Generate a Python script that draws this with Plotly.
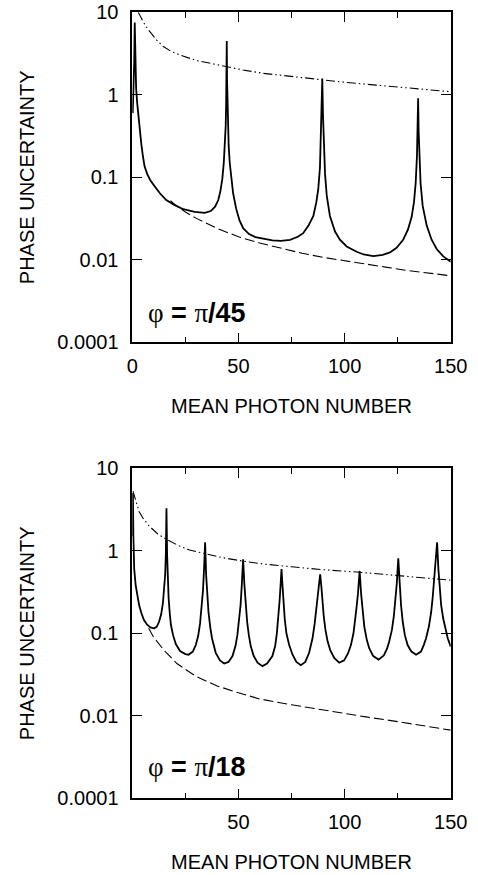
import plotly.graph_objects as go

# ---------------- Panel A : phi = pi/45 ----------------
a_solid_n = [0.2, 0.6, 0.9, 1.15, 1.4, 1.8, 2.3, 2.7, 3.4, 4.2, 5.0, 5.8, 7.0, 8.5, 10.5, 13, 16, 20, 24,
             29.4, 34.1, 37, 39, 40.5, 41.5, 42.4, 43.1, 43.6, 44.0, 44.2, 44.35, 44.5, 44.65, 44.8, 45.0,
             45.4, 45.9, 46.6, 47.5, 48.9, 50.5, 52.3, 55, 58, 62, 66, 70, 74.3, 78, 80.5, 83, 85.3, 86.7,
             87.6, 88.4, 88.8, 89.15, 89.5, 89.85, 90.2, 90.8, 91.6, 93.1, 95.5, 97.8, 101, 105.7, 109,
             113.5, 118, 121.4, 124.5, 127.6, 129.8, 131.6, 132.7, 133.5, 134.1, 134.4, 134.65, 134.9,
             135.3, 135.8, 136.8, 138.7, 141, 143.4, 146.5, 150]
a_solid_y = [0.6, 1.2, 2.5, 7.5, 2.5, 1.2, 0.8, 0.62, 0.4, 0.26, 0.18, 0.135, 0.11, 0.092, 0.078, 0.064,
             0.053, 0.046, 0.041, 0.038, 0.037, 0.039, 0.044, 0.053, 0.068, 0.095, 0.15, 0.24, 0.42, 0.75,
             1.5, 4.5, 1.5, 0.75, 0.42, 0.24, 0.15, 0.095, 0.064, 0.042, 0.030, 0.024, 0.0205, 0.0188,
             0.0178, 0.0172, 0.0170, 0.0174, 0.019, 0.021, 0.026, 0.034, 0.05, 0.072, 0.13, 0.26, 0.55,
             1.58, 0.55, 0.26, 0.11, 0.06, 0.034, 0.022, 0.0175, 0.0145, 0.0125, 0.0116, 0.0111, 0.0115,
             0.0123, 0.014, 0.0175, 0.023, 0.033, 0.05, 0.085, 0.18, 0.36, 0.91, 0.36, 0.16, 0.085, 0.045,
             0.026, 0.0175, 0.0135, 0.011, 0.0095]

a_dashdot_n = [2.8, 4, 5.5, 7, 9, 11.5, 14.6, 18.4, 23, 30.3, 38.8, 44.5, 52, 61.7, 75, 89.5, 100, 113.5,
               125, 134.7, 150]
a_dashdot_y = [10, 8.6, 7.4, 6.4, 5.5, 4.6, 3.85, 3.35, 3.0, 2.6, 2.35, 2.19, 2.0, 1.82, 1.67, 1.51, 1.42,
               1.32, 1.24, 1.17, 1.09]

a_dashed_n = [18, 20, 25, 30, 40, 50, 60, 70, 80, 90, 100, 110, 120, 130, 140, 150]
a_dashed_y = [0.052, 0.047, 0.038, 0.032, 0.024, 0.019, 0.016, 0.0138, 0.012, 0.0107, 0.0097, 0.0088,
              0.0081, 0.0074, 0.0069, 0.0064]

# ---------------- Panel B : phi = pi/18 ----------------
b_solid_n = [0.1, 0.3, 0.5, 0.9, 1.6, 2.4, 3.2, 4.3, 5.5, 7.0, 8.5, 10.3, 11.5, 12.6, 13.6, 14.4, 15.0,
             15.5, 15.8, 16.1, 16.4, 16.7, 17.1, 17.6, 18.2, 19.2, 20.5, 22.5, 25, 26.5, 28.5, 29.9, 31,
             31.9, 32.7, 33.3, 33.8, 34.3, 34.8, 35.3, 35.9, 36.8, 37.6, 39.3, 41.3, 43.3, 45.3, 47.2,
             48.6, 49.5, 50.3, 51.0, 51.6, 52.2, 52.8, 53.4, 54.1, 54.9, 55.8, 57.2, 59, 61.3, 63.5, 66.0,
             67.3, 68.1, 68.8, 69.4, 69.9, 70.3, 70.7, 71.2, 71.8, 72.6, 73.9, 75.5, 77.3, 79.4, 81.5,
             83.3, 84.9, 85.9, 86.7, 87.3, 87.9, 88.5, 89.1, 89.6, 90.2, 91.0, 92.0, 93.3, 95.2, 97.5,
             99.8, 101.6, 103, 104.2, 105.0, 105.6, 106.3, 107.1, 107.8, 108.5, 109.3, 110.4, 111.6, 113.5,
             116, 118.5, 120, 121, 122.3, 123.2, 123.9, 124.6, 125.3, 125.9, 126.6, 127.4, 128.4, 129.7,
             131.5, 133.7, 136, 137.3, 138.4, 139.7, 140.8, 141.5, 142.3, 142.9, 143.6, 144.2, 144.8,
             145.5, 146.5, 147.5, 148.6, 150]
b_solid_y = [1.5, 5.0, 1.5, 0.6, 0.38, 0.27, 0.22, 0.175, 0.145, 0.127, 0.118, 0.115, 0.12, 0.138, 0.17,
             0.23, 0.33, 0.52, 0.9, 3.27, 0.9, 0.45, 0.27, 0.18, 0.126, 0.095, 0.074, 0.061, 0.056, 0.055,
             0.06, 0.072, 0.092, 0.13, 0.2, 0.33, 0.6, 1.27, 0.5, 0.29, 0.18, 0.115, 0.086, 0.058, 0.047,
             0.043, 0.045, 0.053, 0.07, 0.095, 0.138, 0.22, 0.39, 0.79, 0.39, 0.22, 0.138, 0.095, 0.07,
             0.053, 0.044, 0.040, 0.043, 0.053, 0.07, 0.1, 0.15, 0.25, 0.4, 0.60, 0.4, 0.25, 0.15, 0.1,
             0.072, 0.055, 0.045, 0.041, 0.045, 0.058, 0.087, 0.13, 0.2, 0.27, 0.38, 0.52, 0.36, 0.24,
             0.16, 0.11, 0.08, 0.062, 0.05, 0.044, 0.047, 0.057, 0.072, 0.1, 0.14, 0.2, 0.3, 0.57, 0.3,
             0.18, 0.12, 0.085, 0.066, 0.053, 0.048, 0.054, 0.065, 0.079, 0.11, 0.16, 0.24, 0.4, 0.81,
             0.4, 0.22, 0.138, 0.095, 0.072, 0.06, 0.055, 0.06, 0.072, 0.087, 0.12, 0.18, 0.27, 0.45,
             0.7, 1.27, 0.6, 0.33, 0.22, 0.15, 0.11, 0.087, 0.069]

b_dashdot_n = [0.3, 1.1, 2, 3.2, 5, 7.9, 12, 16, 22, 27, 34.5, 42, 52, 62, 75, 90, 107, 125, 140, 150]
b_dashdot_y = [5.3, 4.5, 3.6, 3.0, 2.5, 2.0, 1.6, 1.38, 1.15, 1.02, 0.92, 0.83, 0.75, 0.69, 0.64, 0.59,
               0.55, 0.50, 0.465, 0.44]

b_dashed_n = [7.7, 10, 15, 21, 30, 40, 50, 60, 75, 90, 100, 110, 125, 140, 150]
b_dashed_y = [0.115, 0.09, 0.062, 0.043, 0.03, 0.023, 0.019, 0.016, 0.0136, 0.0117, 0.0106, 0.0097,
              0.0085, 0.0073, 0.0067]

y_tickvals = [0.001, 0.01, 0.1, 1, 10]
y_ticktext = ["0.0001", "0.01", "0.1", "1", "10"]
x_ticks_a = [0, 50, 100, 150]
x_ticks_b = [50, 100, 150]
labels = ["φ = π/45", "φ = π/18"]

W, H = 478, 875
FONT = "Liberation Sans, Arial, sans-serif"

fig = go.Figure()
solid = dict(color="black", width=1.8)
dashdot = dict(color="black", width=1.1, dash="9px,3px,1.5px,3px,1.5px,3px")
dashed = dict(color="black", width=1.1, dash="10px,4px")

for xa, ya, sets in [("x", "y", [(a_solid_n, a_solid_y, solid), (a_dashdot_n, a_dashdot_y, dashdot),
                                   (a_dashed_n, a_dashed_y, dashed)]),
                     ("x2", "y2", [(b_solid_n, b_solid_y, solid), (b_dashdot_n, b_dashdot_y, dashdot),
                                     (b_dashed_n, b_dashed_y, dashed)])]:
    for n, v, ln in sets:
        fig.add_trace(go.Scatter(x=n, y=v, mode="lines", line=ln, xaxis=xa, yaxis=ya,
                                 showlegend=False, hoverinfo="skip"))

def px_x(x):
    return x / W

def px_y(y):
    return 1 - y / H

xdom = [px_x(132.3), px_x(450.7)]
ydom_a = [px_y(342.3), px_y(12.3)]
ydom_b = [px_y(798.3), px_y(468.3)]

def xaxis(anchor, tickvals):
    return dict(domain=xdom, anchor=anchor, range=[0, 150], tickvals=tickvals,
                ticktext=[str(t) for t in tickvals], automargin=False,
                ticks="inside", ticklen=10, tickwidth=1.2, tickcolor="black",
                minor=dict(dtick=25, tick0=0, ticks="inside", ticklen=6, tickwidth=1.2, tickcolor="black"),
                showline=True, linecolor="black", linewidth=1.6, mirror="ticks",
                showgrid=False, zeroline=False, ticklabelstandoff=5, ticklabeloverflow="allow",
                tickfont=dict(family=FONT, size=20, color="black"),
                title=dict(text="MEAN PHOTON NUMBER", standoff=23,
                           font=dict(family=FONT, size=20, color="black")))

def yaxis(anchor, dom):
    return dict(domain=dom, anchor=anchor, type="log", range=[-3, 1], tickvals=y_tickvals,
                ticktext=y_ticktext, ticks="inside", ticklen=10, tickwidth=1.2, tickcolor="black",
                showline=True, linecolor="black", linewidth=1.6, mirror="ticks", automargin=False,
                showgrid=False, zeroline=False, ticklabelstandoff=8, ticklabeloverflow="allow",
                tickfont=dict(family=FONT, size=20, color="black"),
                title=dict(text="PHASE UNCERTAINTY", standoff=17,
                           font=dict(family=FONT, size=20, color="black")))

fig.update_layout(
    width=W, height=H, paper_bgcolor="white", plot_bgcolor="white",
    margin=dict(l=0, r=0, t=0, b=0),
    xaxis=xaxis("y", x_ticks_a), yaxis=yaxis("x", ydom_a),
    xaxis2=xaxis("y2", x_ticks_b), yaxis2=yaxis("x2", ydom_b),
)

serif = "font-family:'Liberation Serif', 'Times New Roman', serif;font-weight:normal;color:black"
for txt, yc in [(labels[0], 313), (labels[1], 767)]:
    phi, rest = txt.split(" = ")
    html = f"<span style=\"{serif}\">{phi}</span><b> = </b><span style=\"{serif}\">π</span><b>{rest[1:]}</b>"
    fig.add_annotation(text=html, xref="paper", yref="paper", x=px_x(146), y=px_y(yc),
                       xanchor="left", yanchor="middle", showarrow=False,
                       font=dict(family=FONT, size=27, color="black"))

# remove the browser's default 8px body margin so the figure sits at the window corner
fig.write_html("out.html", config={"displayModeBar": False},
               post_script="document.body.style.margin='0px';document.body.style.overflow='hidden';")
